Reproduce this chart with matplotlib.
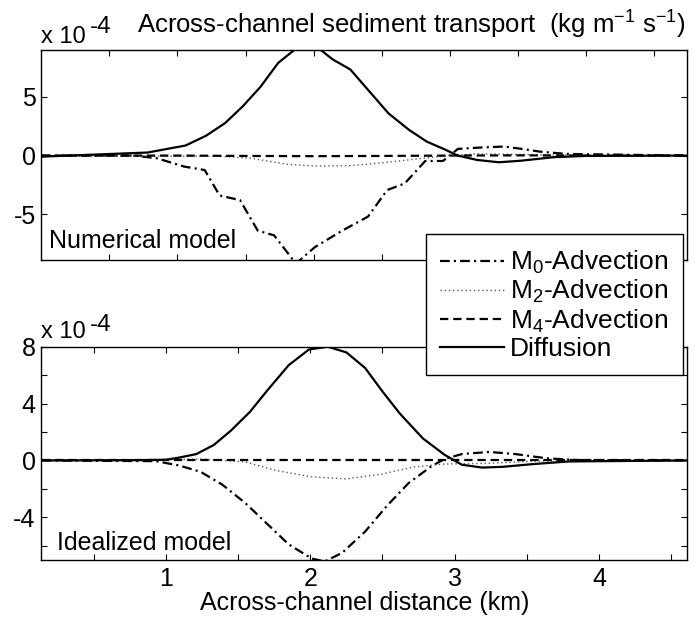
import matplotlib
matplotlib.use("Agg")
import matplotlib.pyplot as plt

plt.rcParams["font.family"] = ["Liberation Sans", "DejaVu Sans"]
plt.rcParams["mathtext.fontset"] = "custom"
plt.rcParams["mathtext.rm"] = "Liberation Sans"
plt.rcParams["mathtext.default"] = "regular"
plt.rcParams["axes.unicode_minus"] = False
plt.rcParams["lines.scale_dashes"] = False
plt.rcParams["font.size"] = 18

# values in units of 1e-4 kg m-1 s-1, distance in km
# --- numerical model (top panel)
num_diff_x = [0.0, 0.78, 1.06, 1.21, 1.35, 1.48, 1.61, 1.74, 1.89, 1.96, 2.02, 2.14, 2.27,
              2.40, 2.55, 2.70, 2.83, 2.97, 3.06, 3.20, 3.36, 3.53, 3.76, 3.99, 4.74]
num_diff_y = [-0.09, 0.26, 0.86, 1.69, 2.77, 4.2, 5.86, 7.9, 9.3, 9.5, 9.3, 8.2, 7.34,
              5.6, 3.6, 2.2, 1.2, 0.49, 0.0, -0.37, -0.57, -0.43, -0.14, -0.03, 0.0]

num_m0_x = [0.0, 0.68, 0.85, 1.05, 1.20, 1.31, 1.46, 1.59, 1.71, 1.87, 2.01, 2.21, 2.40,
            2.54, 2.67, 2.82, 2.95, 3.06, 3.23, 3.40, 3.53, 3.66, 3.86, 4.74]
num_m0_y = [0.0, 0.0, -0.23, -0.94, -1.23, -3.4, -3.8, -6.4, -6.8, -9.2, -7.8, -6.4, -5.2,
            -2.94, -2.37, -0.46, -0.46, 0.57, 0.69, 0.77, 0.57, 0.34, 0.14, 0.0]

num_m2_x = [0.0, 1.30, 1.54, 1.81, 2.01, 2.27, 2.54, 2.80, 3.00, 3.20, 3.49, 3.99, 4.74]
num_m2_y = [-0.05, -0.05, -0.23, -0.74, -0.89, -0.86, -0.57, -0.23, 0.0, 0.15, 0.1, 0.0, 0.0]

num_m4_x = [0.0, 1.0, 1.5, 2.0, 2.5, 3.0, 3.5, 4.0, 4.74]
num_m4_y = [0.0, 0.0, -0.03, -0.05, -0.03, 0.0, 0.02, 0.0, 0.0]

# --- idealized model (bottom panel)
ide_diff_x = [0.14, 0.78, 1.0, 1.09, 1.21, 1.33, 1.45, 1.58, 1.70, 1.85, 1.99, 2.12, 2.25,
              2.38, 2.50, 2.62, 2.78, 2.93, 3.05, 3.19, 3.33, 3.55, 3.79, 4.63]
ide_diff_y = [0.0, 0.02, 0.05, 0.2, 0.45, 1.08, 2.1, 3.4, 4.9, 6.7, 7.8, 8.0, 7.6,
              6.5, 4.85, 3.3, 1.55, 0.4, -0.3, -0.5, -0.45, -0.25, -0.07, 0.0]

ide_m0_x = [0.14, 0.93, 1.09, 1.24, 1.39, 1.55, 1.70, 1.85, 2.01, 2.10, 2.22, 2.38, 2.53,
            2.68, 2.84, 2.93, 3.05, 3.24, 3.42, 3.64, 3.85, 4.63]
ide_m0_y = [0.0, -0.05, -0.35, -0.8, -1.7, -3.0, -4.45, -5.9, -6.9, -7.1, -6.5, -5.0, -3.2,
            -1.6, -0.4, 0.1, 0.45, 0.6, 0.45, 0.15, 0.03, 0.0]

ide_m2_x = [0.14, 1.0, 1.24, 1.55, 1.76, 2.01, 2.25, 2.50, 2.72, 2.93, 3.24, 3.55, 4.63]
ide_m2_y = [0.0, 0.05, 0.1, -0.1, -0.7, -1.15, -1.3, -0.95, -0.45, -0.25, -0.2, -0.05, 0.0]

ide_m4_x = [0.14, 1.0, 2.0, 3.0, 4.0, 4.63]
ide_m4_y = [0.0, 0.0, 0.0, 0.0, 0.0, 0.0]

labels = ["M$_0$-Advection", "M$_2$-Advection", "M$_4$-Advection", "Diffusion"]

W, H = 695, 619
fig = plt.figure(figsize=(W / 100, H / 100), dpi=100)

ax1 = fig.add_axes([41.3 / W, 1 - 260 / H, 646 / W, 210 / H])
ax2 = fig.add_axes([41.3 / W, 1 - 560 / H, 646 / W, 213.3 / H])

styles = [
    dict(color="k", lw=1.6, linestyle=(0, (7, 3, 1.5, 3))),
    dict(color="0.35", lw=1.0, linestyle=(0, (1, 2))),
    dict(color="k", lw=1.6, linestyle=(0, (6, 3.5))),
    dict(color="k", lw=1.6, linestyle="-"),
]

series_top = [(num_m0_x, num_m0_y), (num_m2_x, num_m2_y),
              (num_m4_x, num_m4_y), (num_diff_x, num_diff_y)]
series_bot = [(ide_m0_x, ide_m0_y), (ide_m2_x, ide_m2_y),
              (ide_m4_x, ide_m4_y), (ide_diff_x, ide_diff_y)]

handles = []
for (x, y), st in zip(series_top, styles):
    ax1.plot(x, y, **st)
for (x, y), st in zip(series_bot, styles):
    h, = ax2.plot(x, y, **st)
    handles.append(h)

xt = [0.5, 1, 1.5, 2, 2.5, 3, 3.5, 4, 4.5]

ax1.set_xlim(0.0, 4.745)
ax1.set_ylim(-8.9, 9.0)
ax1.set_xticks(xt)
ax1.set_xticklabels([])
ax1.set_yticks([-5, 0, 5])
ax1.set_yticklabels(["-5", "0", "5"])

ax2.set_xlim(0.136, 4.612)
ax2.set_ylim(-7.0, 8.0)
ax2.set_xticks(xt)
ax2.set_xticklabels(["", "1", "", "2", "", "3", "", "4", ""])
ax2.set_yticks([-6, -4, -2, 0, 2, 4, 6, 8])
ax2.set_yticklabels(["", "-4", "", "0", "", "4", "", "8"])

for ax in (ax1, ax2):
    ax.tick_params(direction="in", top=True, right=True, length=4.5, width=0.8,
                   labelsize=18, pad=4)
    ax.tick_params(axis="x", pad=5)
    for s in ax.spines.values():
        s.set_linewidth(1.0)

ax2.set_xlabel("Across-channel distance (km)", fontsize=18, labelpad=0)

ax1.text(0.012, 0.055, "Numerical model", transform=ax1.transAxes, fontsize=18,
         va="baseline", ha="left")
ax2.text(0.024, 0.047, "Idealized model", transform=ax2.transAxes, fontsize=18,
         va="baseline", ha="left")

# MATLAB-style exponent labels and title
fig.text(41.3 / W, 1 - 43.3 / H, "x 10", fontsize=17, va="baseline")
fig.text(89.5 / W, 1 - 33.3 / H, "-4", fontsize=17.5, va="baseline")
fig.text(41.3 / W, 1 - 338.3 / H, "x 10", fontsize=17, va="baseline")
fig.text(89.5 / W, 1 - 330.7 / H, "-4", fontsize=17.5, va="baseline")
fig.text(136.7 / W, 1 - 33.3 / H,
         "Across-channel sediment transport  (kg m$^{-1}$ s$^{-1}$)",
         fontsize=18.5, va="baseline")

leg = fig.legend(handles, labels, loc="upper left",
                 bbox_to_anchor=(425.7 / W, 1 - 234.3 / H), borderaxespad=0,
                 fontsize=19, frameon=True, fancybox=False, framealpha=1,
                 edgecolor="k", handlelength=2.4, handletextpad=0.25,
                 labelspacing=0.08, borderpad=0.55)
leg.get_frame().set_linewidth(1.0)

fig.savefig("out.png", dpi=100)
